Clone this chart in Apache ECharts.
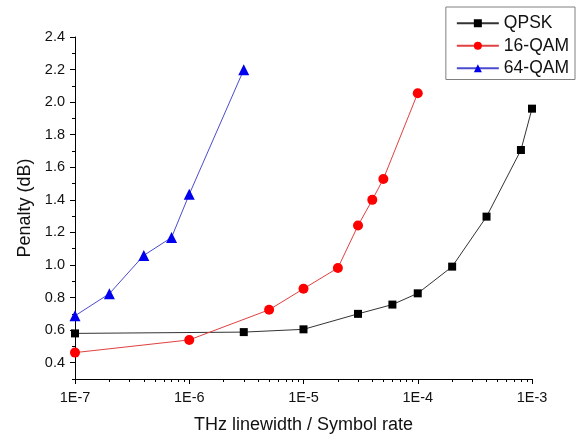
<!DOCTYPE html>
<html>
<head>
<meta charset="utf-8">
<style>
  html, body { margin: 0; padding: 0; background: #fff; }
  #chart { width: 585px; height: 439px; }
</style>
<script src="https://cdn.jsdelivr.net/npm/echarts@6/dist/echarts.min.js"></script>
</head>
<body>
<div id="chart"></div>
<script>
// data
const qpskX = [1e-7, 3e-6, 1e-5, 3e-5, 6e-5, 1e-4, 2e-4, 4e-4, 8e-4, 1e-3];
const qpskY = [0.58, 0.588, 0.605, 0.70, 0.757, 0.826, 0.99, 1.297, 1.706, 1.96];
const qam16X = [1e-7, 1e-6, 5e-6, 1e-5, 2e-5, 3e-5, 4e-5, 5e-5, 1e-4];
const qam16Y = [0.462, 0.54, 0.725, 0.854, 0.982, 1.242, 1.40, 1.528, 2.055];
const qam64X = [1e-7, 2e-7, 4e-7, 7e-7, 1e-6, 3e-6];
const qam64Y = [0.688, 0.824, 1.059, 1.169, 1.434, 2.199];

// tick labels
const yMajor = [0.4, 0.6, 0.8, 1.0, 1.2, 1.4, 1.6, 1.8, 2.0, 2.2, 2.4];
const yMinor = [0.3, 0.5, 0.7, 0.9, 1.1, 1.3, 1.5, 1.7, 1.9, 2.1, 2.3];
const xMinorMult = [2, 3, 4, 5, 6, 7, 8, 9];
const xDecades = [-7, -6, -5, -4];

const pairs = (xs, ys) => xs.map((x, i) => [x, ys[i]]);
// minor tick positions in log10 space for the helper axis
const xMinorLog = [];
xDecades.forEach(d => xMinorMult.forEach(m => xMinorLog.push(d + Math.log10(m))));

const chart = echarts.init(document.getElementById('chart'));
const font = 'Liberation Sans, Arial, sans-serif';

const option = {
  backgroundColor: '#fff',
  animation: false,
  textStyle: { fontFamily: font },
  grid: { left: 75, right: 53, top: 37, bottom: 57, containLabel: false },
  legend: {
    orient: 'vertical',
    right: 10,
    top: 7,
    itemWidth: 42,
    itemHeight: 10,
    itemGap: 2,
    padding: [6, 6, 1, 10],
    borderColor: '#808080',
    borderWidth: 1,
    textStyle: { fontSize: 17.5, color: '#111', fontFamily: font, lineHeight: 20.5 },
    data: ['QPSK', '16-QAM', '64-QAM']
  },
  xAxis: [
    {
      type: 'log',
      logBase: 10,
      min: 1e-7,
      max: 1e-3,
      name: 'THz linewidth / Symbol rate',
      nameLocation: 'middle',
      nameGap: 37,
      nameTextStyle: { fontSize: 18, color: '#111' },
      axisLine: { lineStyle: { color: '#000', width: 1 } },
      axisTick: { show: true, length: 5, inside: false, lineStyle: { color: '#000' } },
      axisLabel: {
        fontSize: 14.5,
        color: '#111',
        margin: 11,
        formatter: v => '1E' + Math.round(Math.log10(v))
      },
      splitLine: { show: false },
      minorTick: { show: false }
    },
    {
      // helper axis for the 2..9 minor ticks
      type: 'value',
      position: 'bottom',
      min: -7,
      max: -3,
      axisLine: { show: false },
      axisTick: { show: true, length: 3, customValues: xMinorLog, lineStyle: { color: '#000' } },
      axisLabel: { show: false },
      splitLine: { show: false }
    }
  ],
  yAxis: [
    {
      type: 'value',
      min: 0.3,
      max: 2.4,
      name: 'Penalty (dB)',
      nameLocation: 'middle',
      nameGap: 41,
      nameTextStyle: { fontSize: 18, color: '#111' },
      axisLine: { show: true, lineStyle: { color: '#000', width: 1 } },
      axisTick: { show: true, length: 5, customValues: yMajor, lineStyle: { color: '#000' } },
      axisLabel: {
        fontSize: 14.5,
        color: '#111',
        margin: 10,
        customValues: yMajor,
        formatter: v => v.toFixed(1)
      },
      splitLine: { show: false }
    },
    {
      type: 'value',
      position: 'left',
      min: 0.3,
      max: 2.4,
      axisLine: { show: false },
      axisTick: { show: true, length: 3, customValues: yMinor, lineStyle: { color: '#000' } },
      axisLabel: { show: false },
      splitLine: { show: false }
    }
  ],
  series: [
    {
      name: 'QPSK',
      type: 'line',
      data: pairs(qpskX, qpskY),
      symbol: 'rect',
      symbolSize: 8,
      color: '#000',
      lineStyle: { color: '#333', width: 1 },
      itemStyle: { color: '#000' },
      clip: true,
      z: 3
    },
    {
      name: '16-QAM',
      type: 'line',
      data: pairs(qam16X, qam16Y),
      symbol: 'circle',
      symbolSize: 10,
      color: '#ff0000',
      lineStyle: { color: '#e04040', width: 1 },
      itemStyle: { color: '#ff0000' },
      clip: true,
      z: 3
    },
    {
      name: '64-QAM',
      type: 'line',
      data: pairs(qam64X, qam64Y),
      symbol: 'triangle',
      symbolSize: 11,
      color: '#0000ee',
      lineStyle: { color: '#4b4bd0', width: 1 },
      itemStyle: { color: '#0000ee' },
      clip: true,
      z: 3
    }
  ]
};

chart.setOption(option);
</script>
</body>
</html>
